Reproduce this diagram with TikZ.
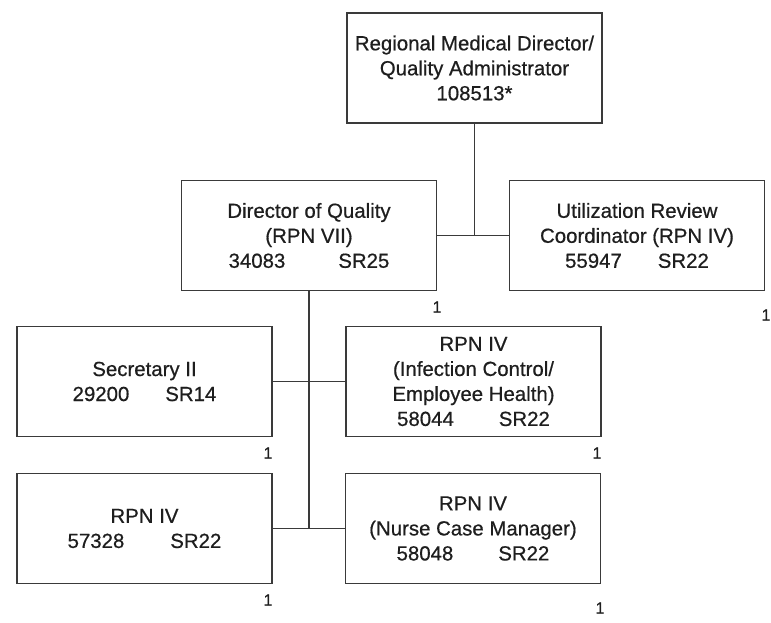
\documentclass[tikz,border=0pt]{standalone}
\usepackage{fontspec}
\setmainfont{Liberation Sans}[FakeBold=0.6]
\usetikzlibrary{positioning}
\definecolor{inkline}{HTML}{3A3A3A}
\definecolor{inktext}{HTML}{1E1E1E}

\begin{document}
\begin{tikzpicture}[
    x=1pt, y=-1pt,
    post/.style={draw=inkline, line width=1.6pt, minimum width=255pt, minimum height=110pt, inner sep=2pt, align=center, text=inktext, font=\fontsize{20.4}{25}\selectfont},
    link/.style={draw=inkline, line width=1.3pt},
    count/.style={text=inktext, inner sep=0pt, font=\fontsize{16}{18}\selectfont},
]
\useasboundingbox (0,0) rectangle (771,623);

% Top-level
\node[post] (rmd) at (474.5, 68) {Regional Medical Director/\\Quality Administrator\\108513*};

% Second row
\node[post] (doq) at (309, 235.5) {Director of Quality\\(RPN VII)\\34083\hspace{53pt}SR25};
\node[post] (urc) at (637, 235.5) {Utilization Review\\Coordinator (RPN IV)\\55947\hspace{36pt}SR22};

\draw[link] (doq.east) -- (urc.west);
\draw[link] (rmd.south) -- (rmd.south |- urc.west);

% Staff under Director of Quality
\node[post] (sec) at (144.5, 381.5) {Secretary II\\29200\hspace{36pt}SR14};
\node[post] (icn) at (473.5, 381.5) {RPN IV\\(Infection Control/\\Employee Health)\\58044\hspace{45pt}SR22};
\node[post] (rpn) at (144.5, 528.5) {RPN IV\\57328\hspace{46pt}SR22};
\node[post] (ncm) at (473, 528.5) {RPN IV\\(Nurse Case Manager)\\58048\hspace{45pt}SR22};

\draw[link] (sec.east) -- (icn.west);
\draw[link] (rpn.east) -- (ncm.west);
\draw[link] (doq.south) -- (doq.south |- rpn.east);

% Head counts
\node[count] (ndoq) at (437, 307) {1};
\node[count] (nurc) at (766, 315) {1};
\node[count] (nsec) at (268, 453) {1};
\node[count] (nicn) at (597, 453) {1};
\node[count] (nrpn) at (268, 600) {1};
\node[count] (nncm) at (600, 608) {1};

\end{tikzpicture}
\end{document}
